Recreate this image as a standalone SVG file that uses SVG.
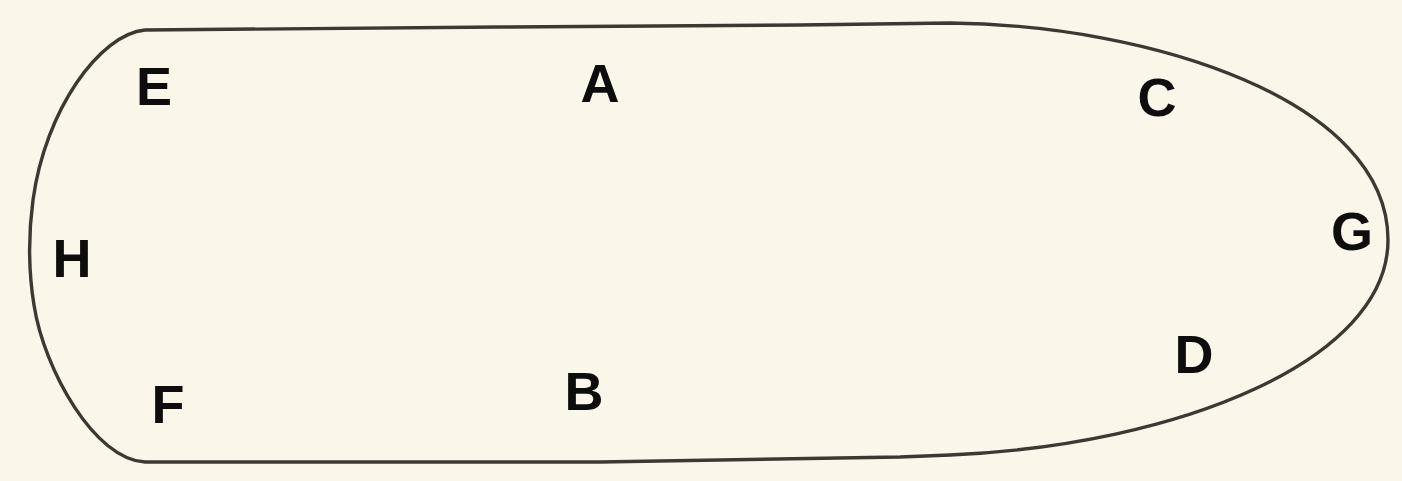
<svg xmlns="http://www.w3.org/2000/svg" width="1402" height="481" viewBox="0 0 1402 481">
<style>
.lbl{font-family:"Liberation Sans",Arial,sans-serif;font-weight:bold;font-size:54px;fill:#0d0d0d;text-anchor:middle}
.outline{fill:none;stroke:#3b3a32;stroke-width:3.4;stroke-linejoin:round}
</style>
<rect x="0" y="0" width="1402" height="481" fill="#f9f6ea"/>
<g id="outline">
<path class="outline" d="M145,30 L500,27 L800,25 L950,23 C1150,25 1388,100 1388,240 C1388,360 1180,445 950,455 L900,457 L600,462 L145,462 C95,460 44,370 34,305 C28,268 28,237 33,200 C45,110 100,34 145,30 Z"/>
</g>
<g id="labels">
<text class="lbl" x="154" y="105">E</text>
<text class="lbl" x="600" y="102">A</text>
<text class="lbl" x="1157" y="116">C</text>
<text class="lbl" x="1352" y="250">G</text>
<text class="lbl" x="72" y="277">H</text>
<text class="lbl" x="1194" y="373">D</text>
<text class="lbl" x="584" y="410">B</text>
<text class="lbl" x="168" y="423">F</text>
</g>
</svg>
